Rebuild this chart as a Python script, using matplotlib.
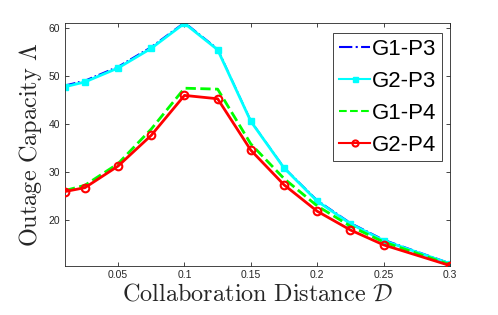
import matplotlib
matplotlib.use("Agg")
import matplotlib.pyplot as plt

plt.rcParams['mathtext.fontset'] = 'cm'

distance = [0.01, 0.025, 0.05, 0.075, 0.1, 0.125, 0.15, 0.175, 0.2, 0.225, 0.25, 0.3]
g1_p3 = [48.1, 49.1, 52.0, 56.1, 61.2, 55.7, 40.7, 31.0, 24.2, 19.5, 16.0, 11.1]
g2_p3 = [47.8, 48.8, 51.7, 55.8, 61.0, 55.5, 40.6, 30.9, 24.0, 19.3, 15.8, 11.0]
g1_p4 = [26.2, 27.3, 31.8, 39.0, 47.5, 47.3, 35.9, 28.7, 23.0, 18.8, 15.5, 10.8]
g2_p4 = [26.0, 26.8, 31.3, 37.7, 46.0, 45.3, 34.6, 27.4, 21.9, 18.0, 14.9, 10.6]
labels = ['G1-P3', 'G2-P3', 'G1-P4', 'G2-P4']

fig = plt.figure(figsize=(4.98, 3.15), dpi=100)
ax = fig.add_axes([0.1305, 0.157, 0.773, 0.769])

ax.plot(distance, g1_p3, color='#0000ff', linestyle='-.', linewidth=1.2, label=labels[0], zorder=1)
ax.plot(distance, g2_p3, color='#00ffff', linestyle='-', linewidth=2, marker='s', markersize=4.5,
        label=labels[1], zorder=2)
ax.plot(distance, g1_p4, color='#00ff00', linestyle='--', linewidth=2, label=labels[2], zorder=2)
ax.plot(distance, g2_p4, color='#ff0000', linestyle='-', linewidth=2, marker='o', markersize=5.5,
        markerfacecolor='none', markeredgewidth=1.5, label=labels[3], zorder=4)

ax.set_xlim(0.01, 0.3)
ax.set_ylim(10.6, 61)
ax.set_xticks([0.05, 0.1, 0.15, 0.2, 0.25, 0.3])
ax.set_xticklabels(['0.05', '0.1', '0.15', '0.2', '0.25', '0.3'])
ax.set_yticks([20, 30, 40, 50, 60])

for s in ax.spines.values():
    s.set_color('#262626')
    s.set_linewidth(0.6)
ax.tick_params(direction='in', top=True, right=True, length=3, width=0.6,
               colors='#262626', labelsize=7.5, labelcolor='#262626')
for t in ax.get_xticklabels() + ax.get_yticklabels():
    t.set_fontfamily('Liberation Sans')

ax.set_xlabel(r'$\mathrm{Collaboration\ Distance}\ \mathcal{D}$', fontsize=17.5, color='#262626', labelpad=1)
ax.set_ylabel(r'$\mathrm{Outage\ Capacity}\ \Lambda$', fontsize=17.5, color='#262626', labelpad=3)

leg = ax.legend(loc='upper right', bbox_to_anchor=(0.98, 0.96),
                prop={'family': 'Liberation Sans', 'size': 16},
                handlelength=1.4, handletextpad=0.1, labelspacing=0.5, markerscale=0.8,
                borderpad=0.25, borderaxespad=0, fancybox=False, framealpha=1,
                edgecolor='#262626')
leg.get_frame().set_linewidth(0.6)
for ln in leg.get_lines():
    ln.set_linewidth(1.5)

fig.savefig('out.png', dpi=100)
